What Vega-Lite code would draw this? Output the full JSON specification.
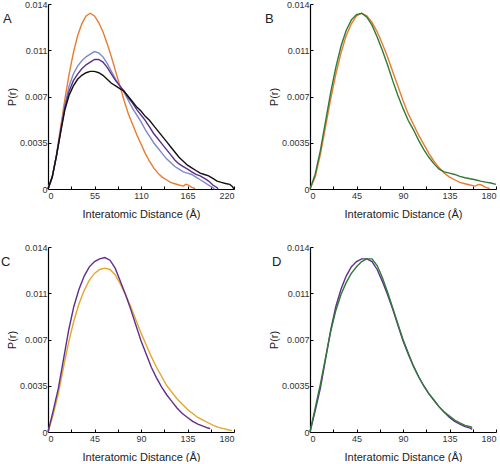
{
  "$schema": "https://vega.github.io/schema/vega-lite/v6.json",
  "autosize": {"type": "pad"},
  "padding": {"left": 1, "top": 0, "right": 0, "bottom": 0},
  "background": "white",
  "config": {
    "view": {"stroke": null},
    "font": "Liberation Sans",
    "axis": {
      "grid": false,
      "domainColor": "#000000",
      "domainWidth": 1.2,
      "tickColor": "#000000",
      "tickSize": -3,
      "labelColor": "#333333",
      "labelFont": "Liberation Sans",
      "labelFontSize": 9,
      "titleFont": "Liberation Sans",
      "titleFontSize": 11,
      "titleFontWeight": "normal",
      "titleColor": "#222222"
    },
    "axisX": {"labelPadding": 5, "titlePadding": 8},
    "axisY": {"labelPadding": 4, "titlePadding": 2},
    "title": {"fontSize": 13, "fontWeight": "normal", "color": "#222222", "anchor": "start", "frame": "group", "baseline": "top", "orient": "none", "offset": 0}
  },
  "datasets": {
    "A": [
      {"s":"A1","r":0,"p":0},{"s":"A1","r":5,"p":0.0009},{"s":"A1","r":10,"p":0.0026},{"s":"A1","r":15,"p":0.0047},{"s":"A1","r":20,"p":0.0068},{"s":"A1","r":25,"p":0.0087},{"s":"A1","r":30,"p":0.0103},{"s":"A1","r":35,"p":0.0116},{"s":"A1","r":40,"p":0.0125},{"s":"A1","r":45,"p":0.0131},{"s":"A1","r":50,"p":0.0133},{"s":"A1","r":55,"p":0.0131},{"s":"A1","r":60,"p":0.0126},{"s":"A1","r":65,"p":0.0119},{"s":"A1","r":70,"p":0.0110},{"s":"A1","r":75,"p":0.0100},{"s":"A1","r":80,"p":0.0089},{"s":"A1","r":85,"p":0.0078},{"s":"A1","r":90,"p":0.0067},{"s":"A1","r":95,"p":0.0057},{"s":"A1","r":100,"p":0.0049},{"s":"A1","r":105,"p":0.0041},{"s":"A1","r":110,"p":0.0034},{"s":"A1","r":115,"p":0.0027},{"s":"A1","r":120,"p":0.0021},{"s":"A1","r":125,"p":0.0016},{"s":"A1","r":130,"p":0.0012},{"s":"A1","r":135,"p":0.0009},{"s":"A1","r":140,"p":0.0007},{"s":"A1","r":145,"p":0.0005},{"s":"A1","r":150,"p":0.0004},{"s":"A1","r":155,"p":0.0003},{"s":"A1","r":160,"p":0.00022},{"s":"A1","r":163,"p":0.00035},{"s":"A1","r":166,"p":0.0003},{"s":"A1","r":170,"p":0.00012},{"s":"A1","r":174,"p":0.00004},
      {"s":"A2","r":0,"p":0},{"s":"A2","r":5,"p":0.0009},{"s":"A2","r":10,"p":0.0025},{"s":"A2","r":15,"p":0.0045},{"s":"A2","r":20,"p":0.0064},{"s":"A2","r":25,"p":0.0078},{"s":"A2","r":30,"p":0.0087},{"s":"A2","r":35,"p":0.0093},{"s":"A2","r":40,"p":0.0097},{"s":"A2","r":45,"p":0.0100},{"s":"A2","r":50,"p":0.0102},{"s":"A2","r":55,"p":0.0104},{"s":"A2","r":60,"p":0.0103},{"s":"A2","r":65,"p":0.0100},{"s":"A2","r":70,"p":0.0095},{"s":"A2","r":75,"p":0.0089},{"s":"A2","r":80,"p":0.0083},{"s":"A2","r":85,"p":0.0078},{"s":"A2","r":90,"p":0.0073},{"s":"A2","r":95,"p":0.0067},{"s":"A2","r":100,"p":0.0061},{"s":"A2","r":105,"p":0.0056},{"s":"A2","r":110,"p":0.0051},{"s":"A2","r":115,"p":0.0045},{"s":"A2","r":120,"p":0.0040},{"s":"A2","r":125,"p":0.0035},{"s":"A2","r":130,"p":0.0031},{"s":"A2","r":135,"p":0.0027},{"s":"A2","r":140,"p":0.0023},{"s":"A2","r":145,"p":0.0020},{"s":"A2","r":150,"p":0.0017},{"s":"A2","r":155,"p":0.0015},{"s":"A2","r":160,"p":0.0013},{"s":"A2","r":165,"p":0.0012},{"s":"A2","r":170,"p":0.0011},{"s":"A2","r":175,"p":0.0009},{"s":"A2","r":180,"p":0.0007},{"s":"A2","r":185,"p":0.0005},{"s":"A2","r":190,"p":0.0003},{"s":"A2","r":195,"p":0.0001},{"s":"A2","r":197,"p":0},
      {"s":"A3","r":0,"p":0},{"s":"A3","r":5,"p":0.0009},{"s":"A3","r":10,"p":0.0025},{"s":"A3","r":15,"p":0.0044},{"s":"A3","r":20,"p":0.0062},{"s":"A3","r":25,"p":0.0074},{"s":"A3","r":30,"p":0.0082},{"s":"A3","r":35,"p":0.0087},{"s":"A3","r":40,"p":0.0091},{"s":"A3","r":45,"p":0.0094},{"s":"A3","r":50,"p":0.0096},{"s":"A3","r":55,"p":0.0098},{"s":"A3","r":60,"p":0.0098},{"s":"A3","r":65,"p":0.0096},{"s":"A3","r":70,"p":0.0092},{"s":"A3","r":75,"p":0.0087},{"s":"A3","r":80,"p":0.0082},{"s":"A3","r":85,"p":0.0078},{"s":"A3","r":90,"p":0.0074},{"s":"A3","r":95,"p":0.0069},{"s":"A3","r":100,"p":0.0065},{"s":"A3","r":105,"p":0.0060},{"s":"A3","r":110,"p":0.0056},{"s":"A3","r":115,"p":0.0052},{"s":"A3","r":120,"p":0.0047},{"s":"A3","r":125,"p":0.0042},{"s":"A3","r":130,"p":0.0038},{"s":"A3","r":135,"p":0.0034},{"s":"A3","r":140,"p":0.0030},{"s":"A3","r":145,"p":0.0026},{"s":"A3","r":150,"p":0.0022},{"s":"A3","r":155,"p":0.0019},{"s":"A3","r":160,"p":0.0017},{"s":"A3","r":165,"p":0.0015},{"s":"A3","r":170,"p":0.0013},{"s":"A3","r":175,"p":0.0011},{"s":"A3","r":180,"p":0.0010},{"s":"A3","r":185,"p":0.0008},{"s":"A3","r":190,"p":0.0006},{"s":"A3","r":195,"p":0.0003},{"s":"A3","r":200,"p":0.0001},{"s":"A3","r":201,"p":0},
      {"s":"A4","r":0,"p":0},{"s":"A4","r":5,"p":0.0009},{"s":"A4","r":10,"p":0.0025},{"s":"A4","r":15,"p":0.0043},{"s":"A4","r":20,"p":0.0060},{"s":"A4","r":25,"p":0.0071},{"s":"A4","r":30,"p":0.0078},{"s":"A4","r":35,"p":0.0083},{"s":"A4","r":40,"p":0.0086},{"s":"A4","r":45,"p":0.0088},{"s":"A4","r":50,"p":0.0089},{"s":"A4","r":55,"p":0.0089},{"s":"A4","r":60,"p":0.0088},{"s":"A4","r":65,"p":0.0086},{"s":"A4","r":70,"p":0.0083},{"s":"A4","r":75,"p":0.0080},{"s":"A4","r":80,"p":0.0078},{"s":"A4","r":85,"p":0.0076},{"s":"A4","r":90,"p":0.0074},{"s":"A4","r":95,"p":0.0070},{"s":"A4","r":100,"p":0.0066},{"s":"A4","r":105,"p":0.0062},{"s":"A4","r":110,"p":0.0059},{"s":"A4","r":115,"p":0.0055},{"s":"A4","r":120,"p":0.0052},{"s":"A4","r":125,"p":0.0048},{"s":"A4","r":130,"p":0.0044},{"s":"A4","r":135,"p":0.0040},{"s":"A4","r":140,"p":0.0036},{"s":"A4","r":145,"p":0.0032},{"s":"A4","r":150,"p":0.0028},{"s":"A4","r":155,"p":0.0024},{"s":"A4","r":160,"p":0.0021},{"s":"A4","r":165,"p":0.0018},{"s":"A4","r":170,"p":0.0016},{"s":"A4","r":175,"p":0.0014},{"s":"A4","r":180,"p":0.0012},{"s":"A4","r":185,"p":0.0011},{"s":"A4","r":190,"p":0.0010},{"s":"A4","r":195,"p":0.0008},{"s":"A4","r":200,"p":0.0006},{"s":"A4","r":205,"p":0.0005},{"s":"A4","r":210,"p":0.00042},{"s":"A4","r":215,"p":0.00035},{"s":"A4","r":218,"p":0.0002},{"s":"A4","r":220,"p":0}
    ],
    "B": [
      {"s":"B1","r":0,"p":0},{"s":"B1","r":5,"p":0.0009},{"s":"B1","r":10,"p":0.0026},{"s":"B1","r":15,"p":0.0047},{"s":"B1","r":20,"p":0.0068},{"s":"B1","r":25,"p":0.0087},{"s":"B1","r":30,"p":0.0103},{"s":"B1","r":35,"p":0.0116},{"s":"B1","r":40,"p":0.0125},{"s":"B1","r":45,"p":0.0131},{"s":"B1","r":50,"p":0.0133},{"s":"B1","r":55,"p":0.0131},{"s":"B1","r":60,"p":0.0126},{"s":"B1","r":65,"p":0.0119},{"s":"B1","r":70,"p":0.0110},{"s":"B1","r":75,"p":0.0100},{"s":"B1","r":80,"p":0.0089},{"s":"B1","r":85,"p":0.0078},{"s":"B1","r":90,"p":0.0067},{"s":"B1","r":95,"p":0.0057},{"s":"B1","r":100,"p":0.0049},{"s":"B1","r":105,"p":0.0041},{"s":"B1","r":110,"p":0.0034},{"s":"B1","r":115,"p":0.0027},{"s":"B1","r":120,"p":0.0021},{"s":"B1","r":125,"p":0.0016},{"s":"B1","r":130,"p":0.0012},{"s":"B1","r":135,"p":0.0009},{"s":"B1","r":140,"p":0.0007},{"s":"B1","r":145,"p":0.0005},{"s":"B1","r":150,"p":0.0004},{"s":"B1","r":155,"p":0.0003},{"s":"B1","r":160,"p":0.00022},{"s":"B1","r":163,"p":0.00035},{"s":"B1","r":166,"p":0.0003},{"s":"B1","r":170,"p":0.00012},{"s":"B1","r":174,"p":0.00004},
      {"s":"B2","r":0,"p":0},{"s":"B2","r":5,"p":0.0011},{"s":"B2","r":10,"p":0.0029},{"s":"B2","r":15,"p":0.0051},{"s":"B2","r":20,"p":0.0073},{"s":"B2","r":25,"p":0.0092},{"s":"B2","r":30,"p":0.0108},{"s":"B2","r":35,"p":0.0120},{"s":"B2","r":40,"p":0.0128},{"s":"B2","r":45,"p":0.0132},{"s":"B2","r":50,"p":0.0133},{"s":"B2","r":55,"p":0.0130},{"s":"B2","r":60,"p":0.0124},{"s":"B2","r":65,"p":0.0115},{"s":"B2","r":70,"p":0.0105},{"s":"B2","r":75,"p":0.0094},{"s":"B2","r":80,"p":0.0082},{"s":"B2","r":85,"p":0.0071},{"s":"B2","r":90,"p":0.0061},{"s":"B2","r":95,"p":0.0052},{"s":"B2","r":100,"p":0.0045},{"s":"B2","r":105,"p":0.0037},{"s":"B2","r":110,"p":0.0030},{"s":"B2","r":115,"p":0.0024},{"s":"B2","r":120,"p":0.0019},{"s":"B2","r":125,"p":0.0015},{"s":"B2","r":130,"p":0.0013},{"s":"B2","r":135,"p":0.0012},{"s":"B2","r":140,"p":0.0011},{"s":"B2","r":145,"p":0.00095},{"s":"B2","r":150,"p":0.00085},{"s":"B2","r":155,"p":0.00078},{"s":"B2","r":160,"p":0.0007},{"s":"B2","r":165,"p":0.0006},{"s":"B2","r":170,"p":0.00052},{"s":"B2","r":175,"p":0.00045},{"s":"B2","r":180,"p":0.00035}
    ],
    "C": [
      {"s":"C1","r":0,"p":0},{"s":"C1","r":5,"p":0.0013},{"s":"C1","r":10,"p":0.0029},{"s":"C1","r":15,"p":0.0049},{"s":"C1","r":20,"p":0.0068},{"s":"C1","r":25,"p":0.0084},{"s":"C1","r":30,"p":0.0097},{"s":"C1","r":35,"p":0.0107},{"s":"C1","r":40,"p":0.0115},{"s":"C1","r":45,"p":0.0120},{"s":"C1","r":50,"p":0.0123},{"s":"C1","r":55,"p":0.0124},{"s":"C1","r":60,"p":0.0123},{"s":"C1","r":65,"p":0.0119},{"s":"C1","r":70,"p":0.0112},{"s":"C1","r":75,"p":0.0104},{"s":"C1","r":80,"p":0.0095},{"s":"C1","r":85,"p":0.0085},{"s":"C1","r":90,"p":0.0075},{"s":"C1","r":95,"p":0.0066},{"s":"C1","r":100,"p":0.0057},{"s":"C1","r":105,"p":0.0049},{"s":"C1","r":110,"p":0.0042},{"s":"C1","r":115,"p":0.0035},{"s":"C1","r":120,"p":0.0030},{"s":"C1","r":125,"p":0.0025},{"s":"C1","r":130,"p":0.0021},{"s":"C1","r":135,"p":0.0017},{"s":"C1","r":140,"p":0.0014},{"s":"C1","r":145,"p":0.0011},{"s":"C1","r":150,"p":0.0009},{"s":"C1","r":155,"p":0.0007},{"s":"C1","r":160,"p":0.0005},{"s":"C1","r":165,"p":0.00035},{"s":"C1","r":170,"p":0.00025},{"s":"C1","r":175,"p":0.00015},{"s":"C1","r":178,"p":0.0001},
      {"s":"C2","r":0,"p":0},{"s":"C2","r":5,"p":0.0016},{"s":"C2","r":10,"p":0.0033},{"s":"C2","r":15,"p":0.0055},{"s":"C2","r":20,"p":0.0077},{"s":"C2","r":25,"p":0.0095},{"s":"C2","r":30,"p":0.0108},{"s":"C2","r":35,"p":0.0118},{"s":"C2","r":40,"p":0.0125},{"s":"C2","r":45,"p":0.0129},{"s":"C2","r":50,"p":0.0131},{"s":"C2","r":55,"p":0.0132},{"s":"C2","r":60,"p":0.0130},{"s":"C2","r":65,"p":0.0124},{"s":"C2","r":70,"p":0.0114},{"s":"C2","r":75,"p":0.0104},{"s":"C2","r":80,"p":0.0093},{"s":"C2","r":85,"p":0.0081},{"s":"C2","r":90,"p":0.0069},{"s":"C2","r":95,"p":0.0059},{"s":"C2","r":100,"p":0.0049},{"s":"C2","r":105,"p":0.0041},{"s":"C2","r":110,"p":0.0034},{"s":"C2","r":115,"p":0.0028},{"s":"C2","r":120,"p":0.0023},{"s":"C2","r":125,"p":0.0018},{"s":"C2","r":130,"p":0.0014},{"s":"C2","r":135,"p":0.0011},{"s":"C2","r":140,"p":0.0008},{"s":"C2","r":145,"p":0.0006},{"s":"C2","r":150,"p":0.00045},{"s":"C2","r":155,"p":0.0003},{"s":"C2","r":157,"p":0.00025}
    ],
    "D": [
      {"s":"D1","r":0,"p":0},{"s":"D1","r":5,"p":0.0016},{"s":"D1","r":10,"p":0.0033},{"s":"D1","r":15,"p":0.0055},{"s":"D1","r":20,"p":0.0077},{"s":"D1","r":25,"p":0.0095},{"s":"D1","r":30,"p":0.0108},{"s":"D1","r":35,"p":0.0118},{"s":"D1","r":40,"p":0.0125},{"s":"D1","r":45,"p":0.0129},{"s":"D1","r":50,"p":0.0131},{"s":"D1","r":55,"p":0.0131},{"s":"D1","r":60,"p":0.0129},{"s":"D1","r":65,"p":0.0123},{"s":"D1","r":70,"p":0.0114},{"s":"D1","r":75,"p":0.0104},{"s":"D1","r":80,"p":0.0093},{"s":"D1","r":85,"p":0.0081},{"s":"D1","r":90,"p":0.0069},{"s":"D1","r":95,"p":0.0059},{"s":"D1","r":100,"p":0.0050},{"s":"D1","r":105,"p":0.0042},{"s":"D1","r":110,"p":0.0035},{"s":"D1","r":115,"p":0.0029},{"s":"D1","r":120,"p":0.0024},{"s":"D1","r":125,"p":0.0019},{"s":"D1","r":130,"p":0.0015},{"s":"D1","r":135,"p":0.0011},{"s":"D1","r":140,"p":0.0008},{"s":"D1","r":145,"p":0.0006},{"s":"D1","r":150,"p":0.0004},{"s":"D1","r":155,"p":0.0003},{"s":"D1","r":157,"p":0.0002},
      {"s":"D2","r":0,"p":0},{"s":"D2","r":5,"p":0.0018},{"s":"D2","r":10,"p":0.0036},{"s":"D2","r":15,"p":0.0056},{"s":"D2","r":20,"p":0.0076},{"s":"D2","r":25,"p":0.0092},{"s":"D2","r":30,"p":0.0104},{"s":"D2","r":35,"p":0.0113},{"s":"D2","r":40,"p":0.0120},{"s":"D2","r":45,"p":0.0125},{"s":"D2","r":50,"p":0.0129},{"s":"D2","r":55,"p":0.0131},{"s":"D2","r":60,"p":0.0131},{"s":"D2","r":65,"p":0.0126},{"s":"D2","r":70,"p":0.0117},{"s":"D2","r":75,"p":0.0106},{"s":"D2","r":80,"p":0.0094},{"s":"D2","r":85,"p":0.0082},{"s":"D2","r":90,"p":0.0070},{"s":"D2","r":95,"p":0.0060},{"s":"D2","r":100,"p":0.0050},{"s":"D2","r":105,"p":0.0042},{"s":"D2","r":110,"p":0.0035},{"s":"D2","r":115,"p":0.0029},{"s":"D2","r":120,"p":0.0024},{"s":"D2","r":125,"p":0.0019},{"s":"D2","r":130,"p":0.0015},{"s":"D2","r":135,"p":0.0012},{"s":"D2","r":140,"p":0.0009},{"s":"D2","r":145,"p":0.0007},{"s":"D2","r":150,"p":0.0005},{"s":"D2","r":155,"p":0.0004},{"s":"D2","r":157,"p":0.00035}
    ]
  },
  "columns": 2,
  "bounds": "flush",
  "spacing": {"row": 58, "column": 76},
  "resolve": {"scale": {"color": "independent"}},
  "concat": [
    {
      "width": 186, "height": 185,
      "data": {"name": "A"},
      "title": {"text": "A", "dx": -45, "dy": 9},
      "mark": {"type": "line", "strokeWidth": 1.4},
      "encoding": {
        "x": {"field": "r", "type": "quantitative", "scale": {"domain": [0, 220], "nice": false},
          "axis": {"title": "Interatomic Distance (Å)", "values": [0, 27.5, 55, 82.5, 110, 137.5, 165, 192.5, 220], "labelExpr": "datum.value % 55 == 0 ? toString(datum.value) : ''"}},
        "y": {"field": "p", "type": "quantitative", "scale": {"domain": [0, 0.014], "nice": false},
          "axis": {"title": "P(r)", "values": [0, 0.0035, 0.007, 0.0105, 0.014], "labelExpr": "datum.value == 0.0105 ? '0.011' : toString(datum.value)"}},
        "color": {"field": "s", "type": "nominal", "legend": null,
          "scale": {"domain": ["A1", "A2", "A3", "A4"], "range": ["#E97B2F", "#7A8CC4", "#5E2E8E", "#111111"]}}
      }
    },
    {
      "width": 186, "height": 185,
      "data": {"name": "B"},
      "title": {"text": "B", "dx": -45, "dy": 9},
      "mark": {"type": "line", "strokeWidth": 1.4},
      "encoding": {
        "x": {"field": "r", "type": "quantitative", "scale": {"domain": [0, 180], "nice": false},
          "axis": {"title": "Interatomic Distance (Å)", "values": [0, 22.5, 45, 67.5, 90, 112.5, 135, 157.5, 180], "labelExpr": "datum.value % 45 == 0 ? toString(datum.value) : ''"}},
        "y": {"field": "p", "type": "quantitative", "scale": {"domain": [0, 0.014], "nice": false},
          "axis": {"title": "P(r)", "values": [0, 0.0035, 0.007, 0.0105, 0.014], "labelExpr": "datum.value == 0.0105 ? '0.011' : toString(datum.value)"}},
        "color": {"field": "s", "type": "nominal", "legend": null,
          "scale": {"domain": ["B1", "B2"], "range": ["#E97B2F", "#2F7A34"]}}
      }
    },
    {
      "width": 186, "height": 185,
      "data": {"name": "C"},
      "title": {"text": "C", "dx": -47, "dy": 9},
      "mark": {"type": "line", "strokeWidth": 1.4},
      "encoding": {
        "x": {"field": "r", "type": "quantitative", "scale": {"domain": [0, 180], "nice": false},
          "axis": {"title": "Interatomic Distance (Å)", "values": [0, 22.5, 45, 67.5, 90, 112.5, 135, 157.5, 180], "labelExpr": "datum.value % 45 == 0 ? toString(datum.value) : ''"}},
        "y": {"field": "p", "type": "quantitative", "scale": {"domain": [0, 0.014], "nice": false},
          "axis": {"title": "P(r)", "values": [0, 0.0035, 0.007, 0.0105, 0.014], "labelExpr": "datum.value == 0.0105 ? '0.011' : toString(datum.value)"}},
        "color": {"field": "s", "type": "nominal", "legend": null,
          "scale": {"domain": ["C1", "C2"], "range": ["#E2A72B", "#5E2E8E"]}}
      }
    },
    {
      "width": 186, "height": 185,
      "data": {"name": "D"},
      "title": {"text": "D", "dx": -38, "dy": 9},
      "mark": {"type": "line", "strokeWidth": 1.4},
      "encoding": {
        "x": {"field": "r", "type": "quantitative", "scale": {"domain": [0, 180], "nice": false},
          "axis": {"title": "Interatomic Distance (Å)", "values": [0, 22.5, 45, 67.5, 90, 112.5, 135, 157.5, 180], "labelExpr": "datum.value % 45 == 0 ? toString(datum.value) : ''"}},
        "y": {"field": "p", "type": "quantitative", "scale": {"domain": [0, 0.014], "nice": false},
          "axis": {"title": "P(r)", "values": [0, 0.0035, 0.007, 0.0105, 0.014], "labelExpr": "datum.value == 0.0105 ? '0.011' : toString(datum.value)"}},
        "color": {"field": "s", "type": "nominal", "legend": null,
          "scale": {"domain": ["D1", "D2"], "range": ["#5E2E8E", "#2F7A34"]}}
      }
    }
  ]
}
